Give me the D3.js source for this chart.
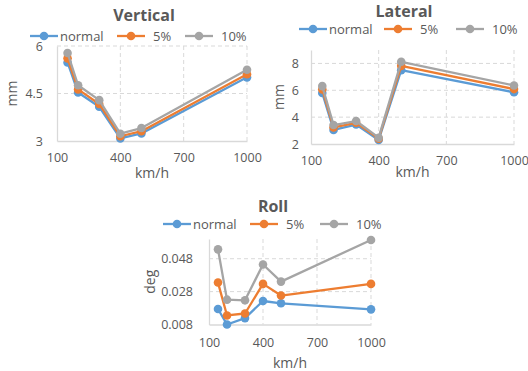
<!DOCTYPE html>
<html><head><meta charset="utf-8">
<script src="https://cdn.jsdelivr.net/npm/d3@7"></script>
<style>body{margin:0;background:#fff;} text{font-family:"Open Sans","Noto Sans",sans-serif;fill:#595959;}</style>
</head><body>
<svg id="c" width="528" height="371"></svg>
<script>
const speeds = [150, 200, 300, 400, 500, 1000];
const seriesNames = ["normal", "5%", "10%"];
const colors = ["#5B9BD5", "#ED7D31", "#A5A5A5"];
const xTicks = [100, 400, 700, 1000];

const verticalNormal = [5.48, 4.53, 4.08, 3.08, 3.24, 5.01];
const vertical5 = [5.61, 4.63, 4.17, 3.15, 3.31, 5.11];
const vertical10 = [5.78, 4.76, 4.29, 3.23, 3.41, 5.25];
const verticalTicks = [3, 4.5, 6];

const lateralNormal = [5.8, 3.05, 3.45, 2.3, 7.5, 5.85];
const lateral5 = [6.07, 3.24, 3.58, 2.4, 7.82, 6.09];
const lateral10 = [6.31, 3.41, 3.71, 2.47, 8.12, 6.36];
const lateralTicks = [2, 4, 6, 8];

const rollNormal = [0.0174, 0.008, 0.0119, 0.0223, 0.0209, 0.0172];
const roll5 = [0.0335, 0.0135, 0.0147, 0.0327, 0.0256, 0.0327];
const roll10 = [0.0537, 0.0231, 0.0227, 0.0445, 0.0341, 0.0594];
const rollTicks = [0.008, 0.028, 0.048];

const svg = d3.select("#c");

function chart(cfg) {
  const g = svg.append("g");
  const x = d3.scaleLinear().domain([100, 1000]).range([cfg.l, cfg.r]);
  const y = d3.scaleLinear().domain(cfg.yDomain).range([cfg.b, cfg.t]);
  // gridlines
  g.selectAll(".hg").data(cfg.yTicks.slice(1)).enter().append("line")
    .attr("x1", cfg.l).attr("x2", cfg.r).attr("y1", d => y(d)).attr("y2", d => y(d))
    .attr("stroke", "#D9D9D9").attr("stroke-dasharray", "4,3").attr("stroke-width", 1);
  g.selectAll(".vg").data(xTicks.slice(1)).enter().append("line")
    .attr("x1", d => x(d)).attr("x2", d => x(d)).attr("y1", cfg.t).attr("y2", cfg.b)
    .attr("stroke", "#D9D9D9").attr("stroke-dasharray", "4,3").attr("stroke-width", 1);
  // axes
  const ya = g.append("g").attr("transform", `translate(${cfg.l},0)`)
    .call(d3.axisLeft(y).tickValues(cfg.yTicks).tickSize(0).tickPadding(cfg.yPad).tickFormat(cfg.fmt));
  ya.select(".domain").attr("stroke", "#D9D9D9").attr("stroke-width", 1.3);
  const xa = g.append("g").attr("transform", `translate(0,${cfg.b})`)
    .call(d3.axisBottom(x).tickValues(xTicks).tickSize(0).tickPadding(cfg.xPad).tickFormat(d3.format("d")));
  xa.select(".domain").attr("stroke", "#D9D9D9").attr("stroke-width", 1.3);
  g.selectAll(".tick text").style("font-size", "12.5px").attr("fill", "#595959");
  // axis titles
  g.append("text").attr("x", (cfg.l + cfg.r) / 2).attr("y", cfg.xTitleY).attr("text-anchor", "middle")
    .style("font-size", "14px").text("km/h");
  g.append("text").attr("transform", `translate(${cfg.yTitleX},${(cfg.t + cfg.b) / 2}) rotate(-90)`)
    .attr("text-anchor", "middle").attr("dy", "0.35em").style("font-size", "14px").text(cfg.yTitle);
  g.append("text").attr("x", cfg.titleX).attr("y", cfg.titleY).attr("text-anchor", "middle")
    .attr("dy", "0.35em").style("font-size", "16px").style("font-weight", "bold").text(cfg.title);
  // series
  const line = d3.line().x((d, i) => x(speeds[i])).y(d => y(d));
  cfg.series.forEach((vals, si) => {
    g.append("path").attr("d", line(vals)).attr("fill", "none").attr("stroke", colors[si])
      .attr("stroke-width", 2.3).attr("stroke-linejoin", "round");
    g.selectAll(".p" + si).data(vals).enter().append("circle")
      .attr("cx", (d, i) => x(speeds[i])).attr("cy", d => y(d)).attr("r", 4.3).attr("fill", colors[si]);
  });
  // legend
  seriesNames.forEach((n, si) => {
    const lx = cfg.legX[si];
    g.append("line").attr("x1", lx).attr("x2", lx + 28).attr("y1", cfg.legY).attr("y2", cfg.legY)
      .attr("stroke", colors[si]).attr("stroke-width", 2.3);
    g.append("circle").attr("cx", lx + 14).attr("cy", cfg.legY).attr("r", 4.3).attr("fill", colors[si]);
    g.append("text").attr("x", lx + 30 + (si === 0 ? 0 : 6)).attr("y", cfg.legY).attr("dy", "0.35em")
      .style("font-size", "13px").text(n);
  });
}

chart({ l: 57, r: 247, t: 46, b: 141, yDomain: [3, 6], yTicks: verticalTicks, fmt: d3.format(""),
  yPad: 14, xPad: 12, xTitleY: 178, yTitleX: 12, yTitle: "mm", title: "Vertical", titleX: 144, titleY: 15,
  legX: [30, 117, 185], legY: 36, series: [verticalNormal, vertical5, vertical10] });

chart({ l: 311, r: 514, t: 50, b: 144, yDomain: [2, 9], yTicks: lateralTicks, fmt: d3.format("d"),
  yPad: 12, xPad: 12, xTitleY: 177, yTitleX: 279, yTitle: "mm", title: "Lateral", titleX: 404, titleY: 11.5,
  legX: [299, 384, 456], legY: 29, series: [lateralNormal, lateral5, lateral10] });

chart({ l: 209, r: 371, t: 239, b: 324.5, yDomain: [0.008, 0.06], yTicks: rollTicks, fmt: d3.format(".3f"),
  yPad: 16, xPad: 14, xTitleY: 368, yTitleX: 150, yTitle: "deg", title: "Roll", titleX: 273, titleY: 206,
  legX: [163, 250, 320], legY: 224, series: [rollNormal, roll5, roll10] });
</script>
</body></html>
